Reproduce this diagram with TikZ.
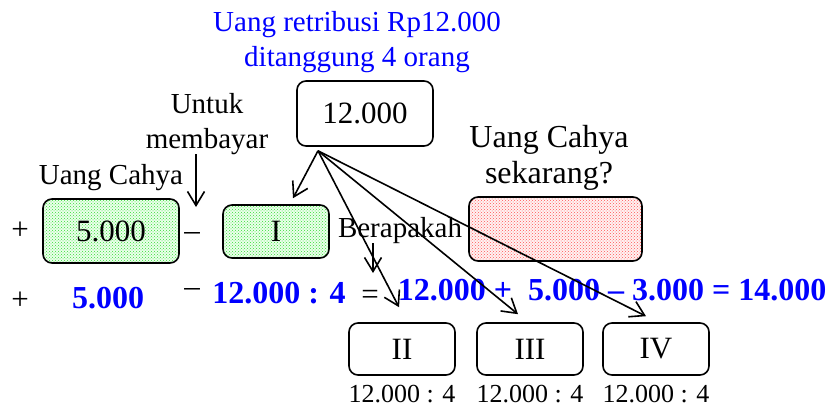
\documentclass[tikz,border=0pt]{standalone}
\usepackage{fontspec}
\setmainfont{Liberation Serif}
\usetikzlibrary{positioning,arrows.meta,patterns,calc}
\definecolor{txtblue}{HTML}{0000FF}
\definecolor{dotgreen}{HTML}{33DD33}
\definecolor{dotred}{HTML}{FF5555}

\begin{document}
\begin{tikzpicture}[x=1pt,y=-1pt,
      box/.style={draw,rounded corners=9pt,line width=1.6pt,minimum height=52pt,inner sep=0pt,font=\fontsize{31}{36}\selectfont},
      greenbox/.style={preaction={fill=green!8},pattern=crosshatch dots,pattern color=dotgreen},
      redbox/.style={preaction={fill=red!5},pattern=crosshatch dots,pattern color=dotred},
      lbl/.style={anchor=base,inner sep=0pt,align=center,font=\fontsize{29}{35}\selectfont},
      sym/.style={inner sep=0pt,font=\fontsize{31}{35}\selectfont},
      bold/.style={anchor=base,inner sep=0pt,text=txtblue,font=\fontsize{32}{36}\selectfont\bfseries},
      small/.style={anchor=base,inner sep=0pt,font=\fontsize{26}{30}\selectfont},
      arr/.style={-{Straight Barb[length=14pt,width=17pt]},line width=1.6pt}]

    \useasboundingbox (0,0) rectangle (832,409);

    % top part (base = last line)
    \node[lbl,text=txtblue] (title) at (357,67) {Uang retribusi Rp12.000\\ditanggung 4 orang};
    \node[box,minimum width=136pt,minimum height=65pt] (total) at (365,113.5) {12.000};
    \node[lbl] (untuk) at (207,148) {Untuk\\membayar};
    \node[lbl] (cahya) at (111,184) {Uang Cahya};
    \node[lbl,font=\fontsize{32}{36}\selectfont] (now) at (549,183) {Uang Cahya\\sekarang?};

    % row with boxes
    \node[sym] (plusA) at (20,231) {+};
    \node[box,greenbox,minimum width=136pt,minimum height=64pt] (money) at (111,231) {5.000};
    \node[sym] (minA) at (192,237) {–};
    \node[box,greenbox,minimum width=106pt,minimum height=53pt] (one) at (276,231.5) {I};
    \node[lbl] (berapa) at (400,237) {Berapakah};
    \node[box,redbox,minimum width=173pt,minimum height=64pt] (result) at (555.5,229) {};

    % row with numbers
    \node[sym] (plusB) at (20,301) {+};
    \node[bold] (moneyB) at (108,308) {5.000};
    \node[sym] (minB) at (192,293) {–};
    \node[bold] (share) at (279,303) {12.000 : 4};
    \node[sym] (eq) at (370,297) {=};
    \node[bold] (sum) at (612,300) {12.000 +\ \ 5.000 – 3.000 = 14.000};

    % the other three
    \node[box,minimum width=106pt] (two) at (402,349) {II};
    \node[box,minimum width=106pt] (three) at (530,349) {III};
    \node[box,minimum width=106pt] (four) at (656,349) {IV};
    \node[small] (twoq) at (402,402) {12.000 : 4};
    \node[small] (threeq) at (530,402) {12.000 : 4};
    \node[small] (fourq) at (656,402) {12.000 : 4};

    % arrows
    \coordinate (fan) at ([shift={(-47,4)}]total.south);
    \coordinate (pay) at (196,207);
    \coordinate (ask) at (373,273);
    \draw[arr] (fan) -- ([shift={(17,-6)}]one.north);
    \draw[arr] (fan) -- ([shift={(-3,-15)}]two.north);
    \draw[arr] (fan) -- ([shift={(-12,-8)}]three.north);
    \draw[arr] (fan) -- ([shift={(-10,-6)}]four.north);
    \draw[arr] (pay |- untuk.south) -- (pay);
    \draw[arr] (ask |- berapa.south) -- (ask);
  \end{tikzpicture}
\end{document}
